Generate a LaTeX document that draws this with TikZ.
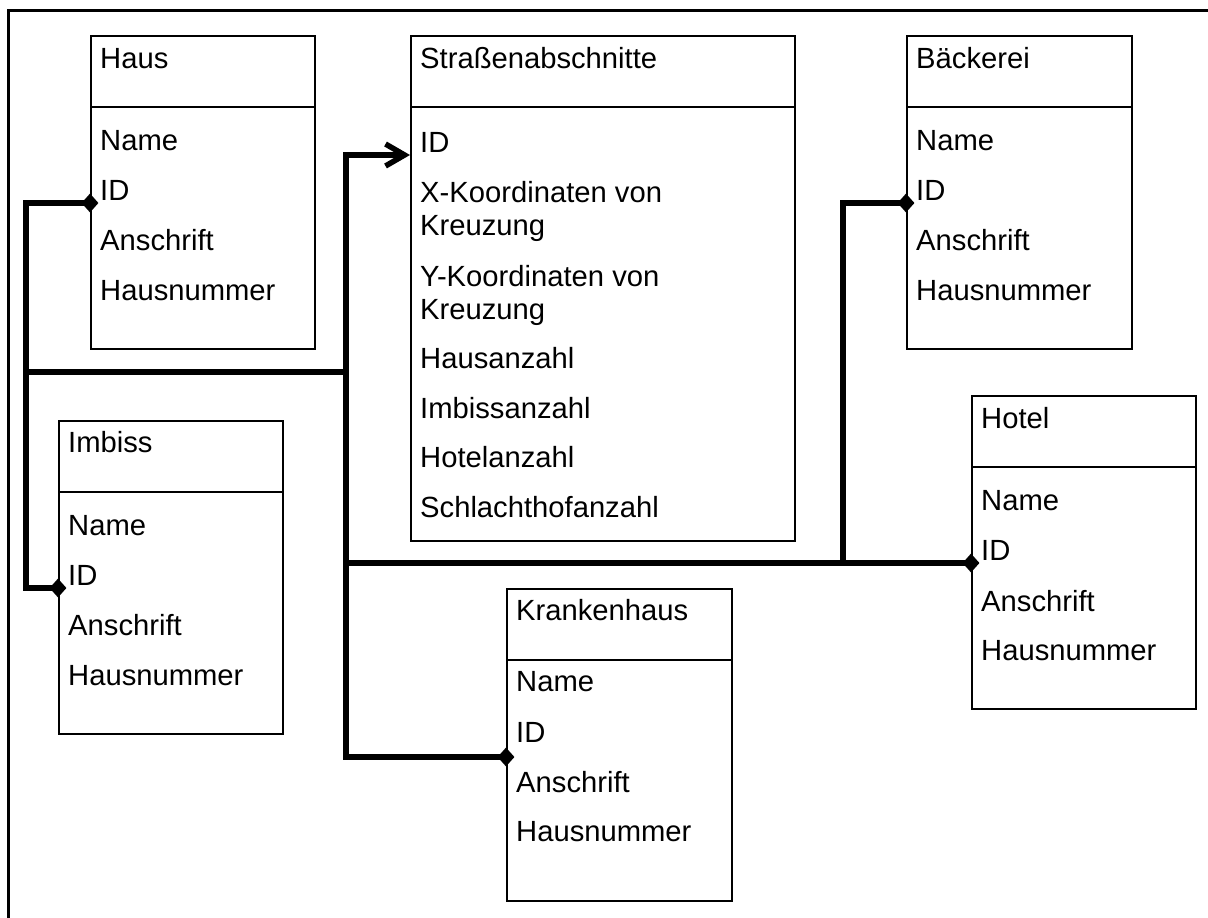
\documentclass[tikz,border=0pt]{standalone}
\usepackage{fontspec}
\setmainfont{Liberation Sans}
\usetikzlibrary{arrows.meta,shapes.geometric}

\tikzset{
  entity/.style={draw, line width=2pt, inner sep=0pt, anchor=north west},
  rule/.style={line width=2pt},
  attr/.style={anchor=base west, inner sep=0pt, font=\fontsize{29.2}{35}\selectfont},
  link/.style={line width=5.5pt},
  pin/.style={diamond, fill=black, inner sep=0pt, minimum width=17pt, minimum height=19pt},
  frame/.style={line width=3pt},
}

% entity box: name, x, y, width, height; the header rule sits 72 units below the top
\newcommand{\entitybox}[5]{%
  \node[entity, minimum width=#4pt, minimum height=#5pt] (#1) at (#2,#3) {};
  \draw[rule] ([yshift=-72pt]#1.north west) -- ([yshift=-72pt]#1.north east);
}

\begin{document}
\begin{tikzpicture}[x=1pt, y=-1pt]
\useasboundingbox (0,0) rectangle (1208,918);

% open frame along the top and left edges
\draw[frame] (8,918) -- (8,10) -- (1208,10);

% ---- Haus ----
\entitybox{haus}{90}{35}{224}{313}
\node[attr] (haus-t)  at (100,68)  {Haus};
\node[attr] (haus-n)  at (100,150) {Name};
\node[attr] (haus-id) at (100,200) {ID};
\node[attr] (haus-a)  at (100,250) {Anschrift};
\node[attr] (haus-h)  at (100,300) {Hausnummer};

% ---- Straßenabschnitte ----
\entitybox{str}{410}{35}{384}{505}
\node[attr] (str-t)  at (420,68)  {Straßenabschnitte};
\node[attr] (str-id) at (420,152) {ID};
\node[attr] (str-x1) at (420,202) {X-Koordinaten von};
\node[attr] (str-x2) at (420,235) {Kreuzung};
\node[attr] (str-y1) at (420,286) {Y-Koordinaten von};
\node[attr] (str-y2) at (420,319) {Kreuzung};
\node[attr] (str-ha) at (420,368) {Hausanzahl};
\node[attr] (str-ia) at (420,418) {Imbissanzahl};
\node[attr] (str-ho) at (420,467) {Hotelanzahl};
\node[attr] (str-sa) at (420,517) {Schlachthofanzahl};

% ---- Bäckerei ----
\entitybox{baeck}{906}{35}{225}{313}
\node[attr] (baeck-t)  at (916,68)  {Bäckerei};
\node[attr] (baeck-n)  at (916,150) {Name};
\node[attr] (baeck-id) at (916,200) {ID};
\node[attr] (baeck-a)  at (916,250) {Anschrift};
\node[attr] (baeck-h)  at (916,300) {Hausnummer};

% ---- Imbiss ----
\entitybox{imb}{58}{420}{224}{313}
\node[attr] (imb-t)  at (68,452) {Imbiss};
\node[attr] (imb-n)  at (68,535) {Name};
\node[attr] (imb-id) at (68,585) {ID};
\node[attr] (imb-a)  at (68,635) {Anschrift};
\node[attr] (imb-h)  at (68,685) {Hausnummer};

% ---- Hotel ----
\entitybox{hotel}{971}{395}{224}{313}
\node[attr] (hotel-t)  at (981,428) {Hotel};
\node[attr] (hotel-n)  at (981,510) {Name};
\node[attr] (hotel-id) at (981,560) {ID};
\node[attr] (hotel-a)  at (981,611) {Anschrift};
\node[attr] (hotel-h)  at (981,660) {Hausnummer};

% ---- Krankenhaus ----
\entitybox{kran}{506}{588}{225}{312}
\node[attr] (kran-t)  at (516,620) {Krankenhaus};
\node[attr] (kran-n)  at (516,691) {Name};
\node[attr] (kran-id) at (516,742) {ID};
\node[attr] (kran-a)  at (516,792) {Anschrift};
\node[attr] (kran-h)  at (516,841) {Hausnummer};

% attachment points on the box edges
\coordinate (hausP)  at ([yshift=-3pt]haus.west |- haus-id.base);
\coordinate (imbP)   at ([yshift=-3pt]imb.west |- imb-id.base);
\coordinate (baeckP) at ([yshift=-3pt]baeck.west |- baeck-id.base);
\coordinate (hotelP) at ([yshift=-3pt]hotel.west |- hotel-id.base);
\coordinate (kranP)  at ([yshift=-15pt]kran.west |- kran-id.base);
\coordinate (strP)   at ([yshift=-3pt]str.west |- str-id.base);

% trunk lines
\coordinate (L) at (26,0);
\coordinate (M) at (346,0);
\coordinate (R) at (843,0);
\coordinate (busA) at (0,372);

% connectors
\draw[link] (hausP) -| (L |- imbP) -- (imbP);
\draw[link] (L |- busA) -- (M |- busA);
\draw[link, {Straight Barb[length=19pt, width=22pt]}-] (strP) -- (M |- strP) |- (kranP);
\draw[link] (M |- hotelP) -- (hotelP);
\draw[link] (R |- hotelP) |- (baeckP);

% diamond ends
\node[pin] (hausD)  at (hausP)  {};
\node[pin] (imbD)   at (imbP)   {};
\node[pin] (baeckD) at (baeckP) {};
\node[pin] (hotelD) at (hotelP) {};
\node[pin] (kranD)  at (kranP)  {};
\end{tikzpicture}
\end{document}
